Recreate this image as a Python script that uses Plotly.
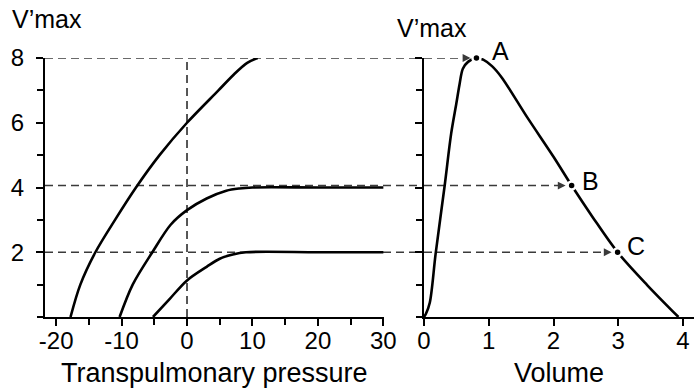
import plotly.graph_objects as go

# ---- data ----
# left panel: V'max vs transpulmonary pressure (three curves)
p_top = [-17.8, -16.3, -14.0, -11.0, -7.8, -4.2, 0.0, 4.8, 7.2, 9.2, 10.8]
v_top = [0.0, 1.0, 2.0, 3.0, 4.0, 5.0, 6.0, 7.0, 7.5, 7.85, 8.0]

p_mid = [-10.3, -8.3, -5.3, -2.5, 0.0, 3.0, 6.0, 8.0, 10.0, 20.0, 30.0]
v_mid = [0.0, 1.0, 2.0, 2.85, 3.3, 3.66, 3.9, 3.97, 4.0, 4.0, 4.0]

p_low = [-5.2, -2.6, 0.0, 3.0, 5.0, 7.0, 9.0, 20.0, 30.0]
v_low = [0.0, 0.57, 1.13, 1.55, 1.8, 1.93, 2.0, 2.0, 2.0]

# right panel: V'max vs volume (flow-volume curve)
vol = [0.0, 0.03, 0.09, 0.18, 0.32, 0.42, 0.50, 0.55, 0.60, 0.68, 0.81,
       0.92, 1.05, 1.2, 1.6, 2.0, 2.28, 2.6, 2.99, 3.45, 3.93]
flow = [0.0, 0.1, 0.45, 1.96, 4.07, 5.67, 6.6, 7.2, 7.67, 7.88, 8.0,
        7.94, 7.75, 7.4, 6.15, 4.95, 4.06, 3.1, 2.0, 0.98, 0.0]

pt_labels = ["A", "B", "C"]
pt_vol = [0.81, 2.28, 2.99]
pt_flow = [8.0, 4.06, 2.0]

x1_ticks = [-20, -10, 0, 10, 20, 30]
x1_text = ["-20", "-10", "0", "10", "20", "30"]
x2_ticks = [0, 1, 2, 3, 4]
y_ticks = [2, 4, 6, 8]

# ---- styling ----
W, H = 694, 388
FONT = "Liberation Sans, Arial, sans-serif"
dom_x1 = [45 / W, 384 / W]
dom_x2 = [424 / W, 1.0]
dom_y = [(H - 317) / H, (H - 58) / H]
DASH = "8px,5px"
DCOL = "#3a3a3a"

fig = go.Figure()
line = dict(color="black", width=2.6, shape="spline", smoothing=0.9)
for xs, ys in [(p_top, v_top), (p_mid, v_mid), (p_low, v_low)]:
    fig.add_trace(go.Scatter(x=xs, y=ys, mode="lines", line=line,
                             xaxis="x", yaxis="y", showlegend=False,
                             hoverinfo="skip"))
fig.add_trace(go.Scatter(x=vol, y=flow, mode="lines", line=line,
                         xaxis="x2", yaxis="y2", showlegend=False,
                         hoverinfo="skip"))
fig.add_trace(go.Scatter(x=pt_vol, y=pt_flow, mode="markers",
                         marker=dict(size=8, color="black",
                                     line=dict(color="white", width=2.5)),
                         xaxis="x2", yaxis="y2", showlegend=False,
                         hoverinfo="skip", cliponaxis=False))

shapes = [dict(type="line", xref="x", yref="y", x0=0, x1=0, y0=0, y1=max(y_ticks),
               line=dict(color=DCOL, width=1.7, dash=DASH), layer="below")]
annotations = []
label_shift = [(14, 7), (8, 5), (7, 6)]
for lab, xv, yv, (dx, dy) in zip(pt_labels, pt_vol, pt_flow, label_shift):
    shapes.append(dict(type="line", xref="paper", yref="y", x0=dom_x1[0], x1=dom_x2[0],
                       y0=yv, y1=yv, line=dict(color=DCOL, width=1.4, dash=DASH),
                       layer="below"))
    shapes.append(dict(type="line", xref="x2", yref="y2", x0=0, x1=xv - 0.2,
                       y0=yv, y1=yv, line=dict(color=DCOL, width=1.4, dash=DASH),
                       layer="below"))
    annotations.append(dict(x=xv, y=yv, xref="x2", yref="y2", text="",
                            showarrow=True, ax=-14, ay=0, standoff=6,
                            arrowhead=2, arrowsize=1.2, arrowwidth=1.3,
                            arrowcolor=DCOL))
    annotations.append(dict(x=xv, y=yv, xref="x2", yref="y2", text=lab,
                            showarrow=False, xanchor="left", yanchor="middle",
                            xshift=dx, yshift=dy,
                            font=dict(family=FONT, size=25, color="black")))

annotations += [
    dict(text="V’max", xref="paper", yref="paper", x=10 / W, y=(H - 19) / H,
         xanchor="left", yanchor="middle", showarrow=False,
         font=dict(family=FONT, size=25, color="black")),
    dict(text="V’max", xref="paper", yref="paper", x=395 / W, y=(H - 28) / H,
         xanchor="left", yanchor="middle", showarrow=False,
         font=dict(family=FONT, size=25, color="black")),
    dict(text="Transpulmonary pressure", xref="paper", yref="paper",
         x=(dom_x1[0] + dom_x1[1]) / 2, y=(H - 373) / H,
         xanchor="center", yanchor="middle", showarrow=False,
         font=dict(family=FONT, size=27, color="black")),
    dict(text="Volume", xref="paper", yref="paper",
         x=(dom_x2[0] + dom_x2[1]) / 2, y=(H - 373) / H,
         xanchor="center", yanchor="middle", showarrow=False,
         font=dict(family=FONT, size=27, color="black")),
]

axis_common = dict(showgrid=False, zeroline=False, showline=True, linecolor="black",
                   linewidth=2, ticks="outside", ticklen=7, tickwidth=1.5,
                   tickcolor="black", automargin=False,
                   tickfont=dict(family=FONT, size=24, color="black"))

fig.update_layout(
    width=W, height=H, margin=dict(l=0, r=0, t=0, b=0, autoexpand=False),
    paper_bgcolor="white", plot_bgcolor="rgba(0,0,0,0)",
    xaxis=dict(axis_common, domain=dom_x1, anchor="y", range=[-21.7, 30.1],
               tickmode="array", tickvals=x1_ticks, ticktext=x1_text,
               ticklabelstandoff=-6,
               minor=dict(ticks="outside", dtick=5, tick0=0, ticklen=6,
                          tickwidth=1.5, tickcolor="black")),
    yaxis=dict(axis_common, domain=dom_y, anchor="x", range=[0, 8],
               tickmode="array", tickvals=y_ticks, ticklabelstandoff=7,
               minor=dict(ticks="outside", dtick=1, tick0=0, ticklen=6,
                          tickwidth=1.5, tickcolor="black")),
    xaxis2=dict(axis_common, domain=dom_x2, anchor="y2", range=[0, 4.17],
                tickmode="array", tickvals=x2_ticks, ticklabelstandoff=-6),
    yaxis2=dict(axis_common, domain=dom_y, anchor="x2", range=[0, 8],
                tickmode="array", tickvals=y_ticks, showticklabels=False,
                minor=dict(ticks="outside", dtick=1, tick0=0, ticklen=6,
                           tickwidth=1.5, tickcolor="black")),
    shapes=shapes, annotations=annotations,
)

fig.write_html("out.html")
